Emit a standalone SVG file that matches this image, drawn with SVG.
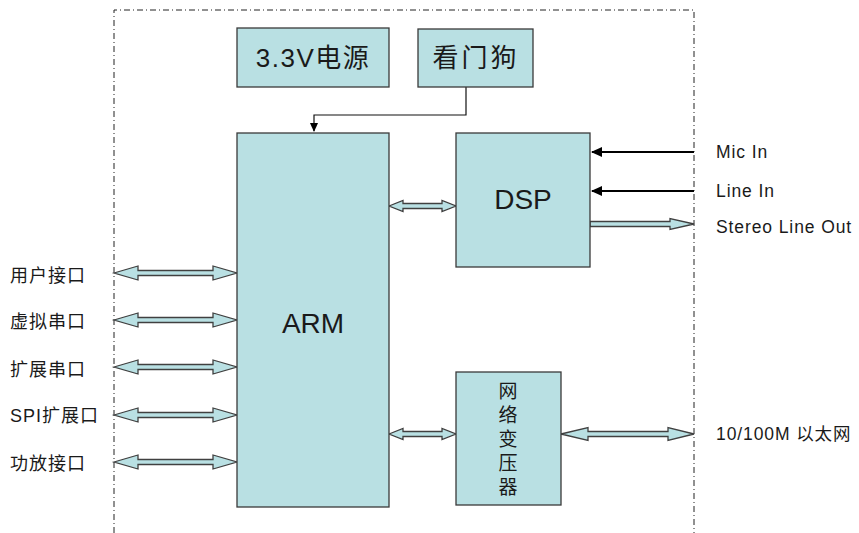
<svg xmlns="http://www.w3.org/2000/svg" width="859" height="533" viewBox="0 0 859 533">
<style>
.box{fill:#b9e0e3;stroke:#3a3a3a;stroke-width:1.3}
.barrow{fill:#b9e0e3;stroke:#404040;stroke-width:1.3;stroke-linejoin:miter}
.border{fill:none;stroke:#222;stroke-width:1;stroke-dasharray:6 3 1 3}
.t{font-family:"Liberation Sans","Noto Sans CJK SC",sans-serif;fill:#1a1a1a}
.lbl{font-size:18px;letter-spacing:1px}
.rl{font-size:17.5px;letter-spacing:0.9px}
.big{font-size:28px;text-anchor:middle}
.mid{font-size:26px;text-anchor:middle}
.vt{font-size:19px;text-anchor:middle}
.wire{fill:none;stroke:#111;stroke-width:1.2}
.sig{fill:none;stroke:#000;stroke-width:2.2}
</style>
<defs>
<marker id="ah" markerWidth="10" markerHeight="10" refX="8" refY="5" orient="auto" markerUnits="userSpaceOnUse">
<path d="M0,1 L9,5 L0,9 Z" fill="#000"/>
</marker>
<marker id="ahs" markerWidth="12" markerHeight="12" refX="10" refY="6" orient="auto" markerUnits="userSpaceOnUse">
<path d="M0,1 L11,6 L0,11 Z" fill="#000"/>
</marker>
</defs>
<rect width="859" height="533" fill="#fff"/>
<g id="border">
<path class="border" d="M114,533 L114,10 L694,10 L694,533"/>
</g>
<g id="connectors">
<path class="wire" d="M466,87 L466,115 L314,115 L314,131" marker-end="url(#ah)"/>
<path class="sig" d="M694,152 L592,152" marker-end="url(#ahs)"/>
<path class="sig" d="M694,191 L592,191" marker-end="url(#ahs)"/>
<path class="barrow" d="M114,273 L138,266 L138,270.5 L213,270.5 L213,266 L237,273 L213,280 L213,275.5 L138,275.5 L138,280 Z"/>
<path class="barrow" d="M114,320 L138,313 L138,317.5 L213,317.5 L213,313 L237,320 L213,327 L213,322.5 L138,322.5 L138,327 Z"/>
<path class="barrow" d="M114,367 L138,360 L138,364.5 L213,364.5 L213,360 L237,367 L213,374 L213,369.5 L138,369.5 L138,374 Z"/>
<path class="barrow" d="M114,415 L138,408 L138,412.5 L213,412.5 L213,408 L237,415 L213,422 L213,417.5 L138,417.5 L138,422 Z"/>
<path class="barrow" d="M114,462 L138,455 L138,459.5 L213,459.5 L213,455 L237,462 L213,469 L213,464.5 L138,464.5 L138,469 Z"/>
<path class="barrow" d="M389,206 L403,200.5 L403,203.5 L442,203.5 L442,200.5 L456,206 L442,211.5 L442,208.5 L403,208.5 L403,211.5 Z"/>
<path class="barrow" d="M389,434 L403,428.5 L403,431.5 L442,431.5 L442,428.5 L456,434 L442,439.5 L442,436.5 L403,436.5 L403,439.5 Z"/>
<path class="barrow" d="M561,434 L588,427.5 L588,431.5 L668,431.5 L668,427.5 L694,434 L668,440.5 L668,436.5 L588,436.5 L588,440.5 Z"/>
<path class="barrow" d="M590,221.5 L670,221.5 L670,218.5 L694,224 L670,229.5 L670,226.5 L590,226.5 Z"/>
</g>
<g id="power">
<rect class="box" x="237" y="28" width="152" height="59"/>
<text class="t mid" x="313" y="67" letter-spacing="1.5">3.3V电源</text>
</g>
<g id="watchdog">
<rect class="box" x="418" y="29" width="115" height="58"/>
<text class="t mid" x="476" y="67" letter-spacing="3">看门狗</text>
</g>
<g id="arm">
<rect class="box" x="237" y="133" width="152" height="374"/>
<text class="t big" x="313" y="333">ARM</text>
</g>
<g id="dsp">
<rect class="box" x="456" y="133" width="134" height="134"/>
<text class="t big" x="523" y="209">DSP</text>
</g>
<g id="transformer">
<rect class="box" x="456" y="372" width="105" height="133"/>
<text class="t vt" x="508" y="398">网</text>
<text class="t vt" x="508" y="422">络</text>
<text class="t vt" x="508" y="446">变</text>
<text class="t vt" x="508" y="470">压</text>
<text class="t vt" x="508" y="494">器</text>
</g>
<g id="left-labels">
<text class="t lbl" x="10" y="282">用户接口</text>
<text class="t lbl" x="10" y="328">虚拟串口</text>
<text class="t lbl" x="10" y="376">扩展串口</text>
<text class="t lbl" x="10" y="422">SPI扩展口</text>
<text class="t lbl" x="10" y="470">功放接口</text>
</g>
<g id="right-labels">
<text class="t rl" x="716" y="158">Mic In</text>
<text class="t rl" x="716" y="197">Line In</text>
<text class="t rl" x="716" y="233">Stereo Line Out</text>
<text class="t rl" x="716" y="440" letter-spacing="1.5">10/100M 以太网</text>
</g>
</svg>
